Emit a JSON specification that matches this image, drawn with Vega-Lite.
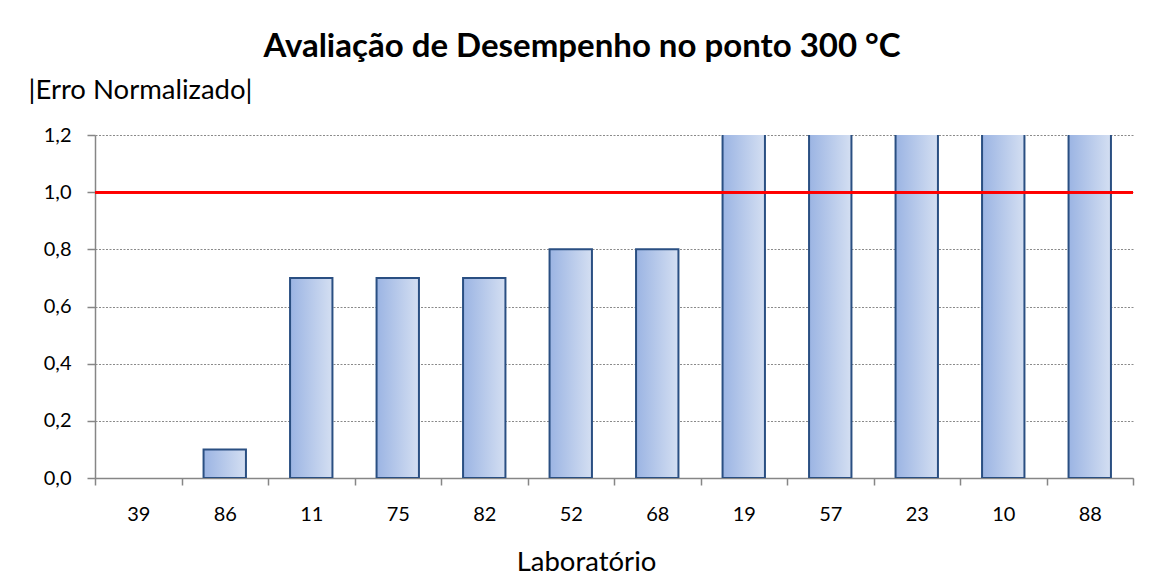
{
  "$schema": "https://vega.github.io/schema/vega-lite/v6.json",
  "autosize": {"type": "none"},
  "width": 1038,
  "height": 343,
  "padding": {"left": 95, "top": 135, "right": 22, "bottom": 106},
  "background": "white",
  "config": {
    "locale": {"number": {"decimal": ",", "thousands": ".", "grouping": [3], "currency": ["R$", ""]}},
    "font": "Lato",
    "view": {"stroke": null},
    "title": {"font": "Lato", "fontSize": 33, "fontWeight": "bold", "color": "#000000"}
  },
  "title": {"text": "Avaliação de Desempenho no ponto 300 °C", "anchor": "middle", "frame": "group", "dx": -32, "offset": 12},
  "data": {"values": [
    {"lab": "39", "v": 0},
    {"lab": "86", "v": 0.1},
    {"lab": "11", "v": 0.7},
    {"lab": "75", "v": 0.7},
    {"lab": "82", "v": 0.7},
    {"lab": "52", "v": 0.8},
    {"lab": "68", "v": 0.8},
    {"lab": "19", "v": 1.5},
    {"lab": "57", "v": 1.5},
    {"lab": "23", "v": 1.5},
    {"lab": "10", "v": 1.5},
    {"lab": "88", "v": 1.5}
  ]},
  "layer": [
    {
      "mark": {
        "type": "bar",
        "clip": true,
        "width": {"band": 0.49},
        "stroke": "#2a4f82",
        "strokeWidth": 2,
        "fill": {"gradient": "linear", "x1": 0, "x2": 1, "y1": 0, "y2": 0,
          "stops": [{"offset": 0, "color": "#9bb4e3"}, {"offset": 1, "color": "#d4dff2"}]}
      },
      "encoding": {
        "x": {
          "field": "lab", "type": "nominal", "sort": null,
          "scale": {"paddingInner": 0, "paddingOuter": 0},
          "axis": {
            "title": "Laboratório", "titleFont": "Lato", "titleFontSize": 27.5, "titleFontWeight": "normal", "titleColor": "#000000",
            "titleX": 491, "titleY": 84, "titleBaseline": "middle", "titleAnchor": "middle",
            "labelAngle": 0, "labelFont": "Lato", "labelFontSize": 20, "labelColor": "#000000", "labelPadding": 19,
            "domainColor": "#868686", "domainWidth": 1.5, "tickColor": "#868686", "tickWidth": 1.5, "tickSize": 7, "tickBand": "extent"
          }
        },
        "y": {
          "field": "v", "type": "quantitative",
          "scale": {"domain": [0, 1.2], "nice": false},
          "axis": {
            "title": "|Erro Normalizado|", "titleFont": "Lato", "titleFontSize": 27.5, "titleFontWeight": "normal", "titleColor": "#000000",
            "titleAngle": 0, "titleX": -67, "titleY": -45, "titleAlign": "left", "titleBaseline": "middle",
            "values": [0, 0.2, 0.4, 0.6, 0.8, 1.0, 1.2], "format": ".1f",
            "labelFont": "Lato", "labelFontSize": 20, "labelColor": "#000000", "labelPadding": 16,
            "domainColor": "#868686", "domainWidth": 1.5, "tickColor": "#868686", "tickWidth": 1.5, "tickSize": 8,
            "grid": true, "gridColor": "#8a8a8a", "gridWidth": 1, "gridDash": [2, 1.5]
          }
        },
        "strokeOpacity": {"condition": {"test": "datum.v <= 0", "value": 0}, "value": 1}
      }
    },
    {
      "mark": {"type": "rule", "color": "#ff0000", "strokeWidth": 2},
      "encoding": {"y": {"datum": 1.0}}
    }
  ]
}
